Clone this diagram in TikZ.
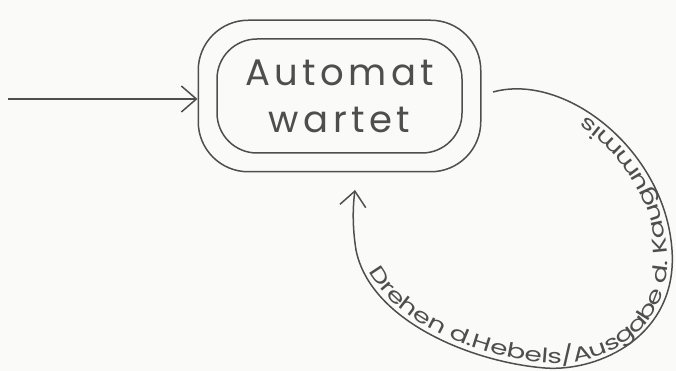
\documentclass[tikz,border=0pt]{standalone}
\usepackage{fontspec}
\setmainfont{Poppins}
\newfontfamily\handfont{Poppins}[LetterSpace=12]
\newfontfamily\loopfont{Poppins}[FakeStretch=1.4]
\usetikzlibrary{arrows.meta,fit,decorations.text}
\definecolor{inkc}{HTML}{4E4E4E}
\definecolor{paper}{HTML}{FAFAF8}
\begin{document}
\begin{tikzpicture}[x=1pt,y=-1pt,
  ink/.style={draw=inkc, line width=1.5pt},
  tipbarb/.style={-{Straight Barb[length=15pt,width=26pt,line width=1.5pt]}},
  statebox/.style={ink, rounded corners=40pt, minimum width=245pt, minimum height=114pt,
    inner sep=0pt, align=center, text=inkc, font=\handfont\fontsize{37}{45}\selectfont},
  outerbox/.style={ink, rounded corners=50pt, inner sep=18pt}]
\fill[paper] (0,0) rectangle (676,371);
\useasboundingbox (0,0) rectangle (676,371);
\node[statebox] (state) at (339.5,96) {\raisebox{2pt}{Automat}\\wartet};
\node[outerbox, fit=(state)] (outer) {};
\coordinate (in) at (8,99);
\draw[ink,tipbarb] (in) -- (outer.west |- in);
\coordinate (ls) at (493,92);
\coordinate (le) at (355,190);
\draw[ink,tipbarb] (ls) .. controls (565,72) and (665,150) .. (672,250)
  .. controls (678,335) and (600,372) .. (545,368)
  .. controls (470,362) and (370,320) .. (356,250)
  .. controls (352,225) and (353,205) .. (le);
\path[decorate, decoration={text along path,
    text={|\loopfont\fontsize{20}{20}\selectfont|Drehen d.Hebels/Ausgabe d. Kaugummis},
    text color=inkc, text align={left indent=86pt}, raise=5pt}]
  (le) .. controls (353,205) and (352,225) .. (356,250)
  .. controls (370,320) and (470,362) .. (545,368)
  .. controls (600,372) and (678,340) .. (672,250)
  .. controls (665,150) and (565,72) .. (ls);
\end{tikzpicture}
\end{document}
